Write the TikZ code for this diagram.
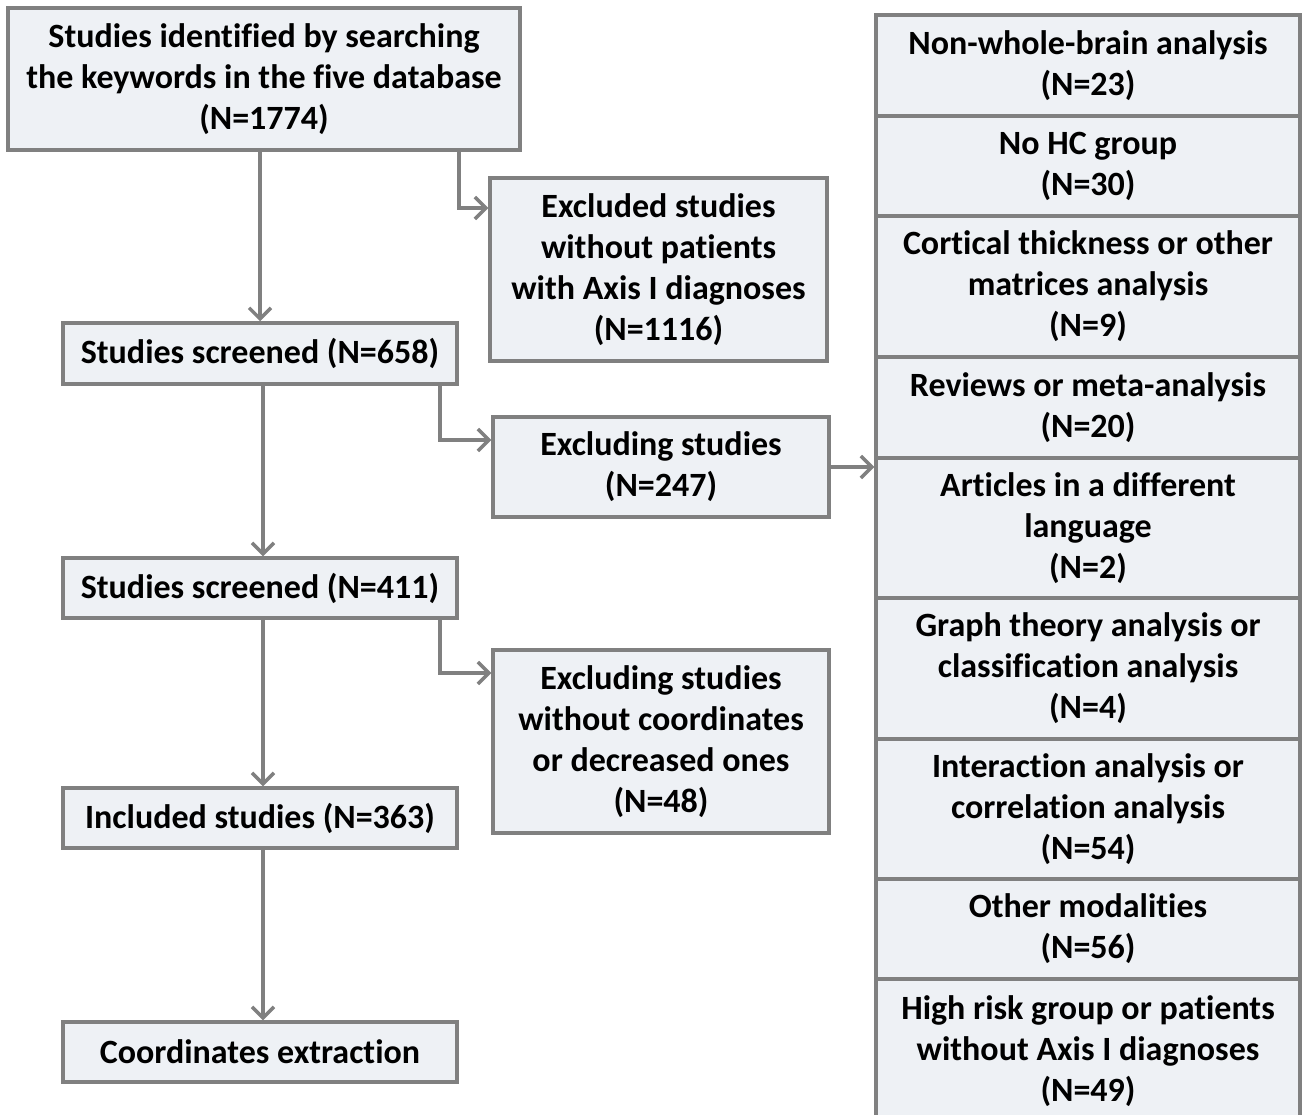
\documentclass[tikz,border=0pt]{standalone}
\usepackage{fontspec}
\setmainfont{Carlito}[Ligatures=NoCommon]
\usetikzlibrary{arrows.meta}
\definecolor{boxfill}{RGB}{238,241,245}
\definecolor{boxline}{RGB}{128,128,128}
\tikzset{
  flowbox/.style={draw=boxline, line width=3.5pt, fill=boxfill, align=center, inner sep=2pt,
    font=\fontsize{34}{41}\selectfont\bfseries, text=black},
  arr/.style={draw=boxline, line width=3.5pt, -{Straight Barb[length=11pt,width=22pt,line width=3.5pt]}}
}
\begin{document}
\begin{tikzpicture}[x=1pt,y=-1pt]
\useasboundingbox (0,0) rectangle (1303,1115);
\clip (0,0) rectangle (1303,1115);
% left column
\node[flowbox, minimum width=512pt, minimum height=142pt] (A) at (264,79) {Studies identified by searching\\the keywords in the five database\\(N=1774)};
\node[flowbox, minimum width=394pt, minimum height=61pt] (C) at (260,353.5) {Studies screened (N=658)};
\node[flowbox, minimum width=394pt, minimum height=60pt] (E) at (260,588) {Studies screened (N=411)};
\node[flowbox, minimum width=394pt, minimum height=60pt] (G) at (260,818) {Included studies (N=363)};
\node[flowbox, minimum width=394pt, minimum height=60pt] (H) at (260,1052) {Coordinates extraction};
% middle column
\node[flowbox, minimum width=337pt, minimum height=183pt] (B) at (658.5,269.5) {Excluded studies\\without patients\\with Axis I diagnoses\\(N=1116)};
\node[flowbox, minimum width=336pt, minimum height=100pt] (D) at (661,467) {Excluding studies\\(N=247)};
\node[flowbox, minimum width=336pt, minimum height=183pt] (F) at (661,741.5) {Excluding studies\\without coordinates\\or decreased ones\\(N=48)};
% right column
\node[flowbox, minimum width=424pt, minimum height=101pt] (R1) at (1088,65.5) {Non-whole-brain analysis\\(N=23)};
\node[flowbox, minimum width=424pt, minimum height=100pt] (R2) at (1088,166) {No HC group\\(N=30)};
\node[flowbox, minimum width=424pt, minimum height=141pt] (R3) at (1088,286.5) {Cortical thickness or other\\matrices analysis\\(N=9)};
\node[flowbox, minimum width=424pt, minimum height=101pt] (R4) at (1088,407.5) {Reviews or meta-analysis\\(N=20)};
\node[flowbox, minimum width=424pt, minimum height=140pt] (R5) at (1088,528) {Articles in a different\\language\\(N=2)};
\node[flowbox, minimum width=424pt, minimum height=141pt] (R6) at (1088,668.5) {Graph theory analysis or\\classification analysis\\(N=4)};
\node[flowbox, minimum width=424pt, minimum height=140pt] (R7) at (1088,809) {Interaction analysis or\\correlation analysis\\(N=54)};
\node[flowbox, minimum width=424pt, minimum height=100pt] (R8) at (1088,929) {Other modalities\\(N=56)};
\node[flowbox, minimum width=424pt, minimum height=144pt] (R9) at (1088,1051) {High risk group or patients\\without Axis I diagnoses\\(N=49)};
% connectors
\draw[arr] (C.north |- A.south) -- (C.north);
\draw[arr] ([xshift=-63pt]A.south east) |- ([yshift=61.5pt]B.west);
\draw[arr] ([xshift=3pt]C.south) -- ([xshift=3pt]E.north);
\draw[arr] ([xshift=-19pt]C.south east) |- ([yshift=27pt]D.west);
\draw[arr] (D.east) -- (D.east -| R5.west);
\draw[arr] ([xshift=3pt]E.south) -- ([xshift=3pt]G.north);
\draw[arr] ([xshift=-19pt]E.south east) |- ([yshift=68.5pt]F.west);
\draw[arr] ([xshift=3pt]G.south) -- ([xshift=3pt]H.north);
\end{tikzpicture}
\end{document}
